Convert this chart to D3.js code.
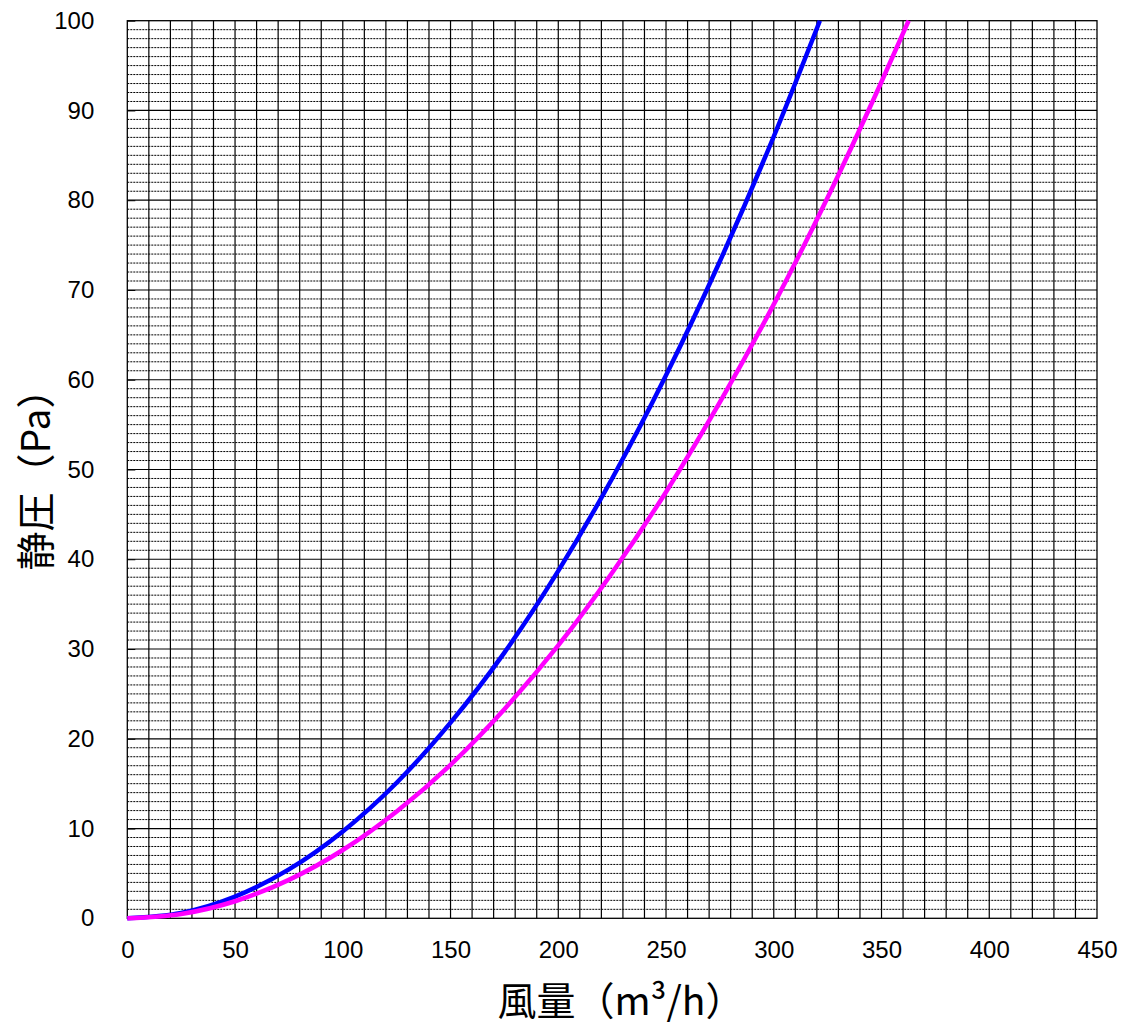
<!DOCTYPE html>
<html>
<head>
<meta charset="utf-8">
<script src="https://cdn.jsdelivr.net/npm/d3@7"></script>
<style>
  body { margin: 0; background: #fff; }
  svg { display: block; }
  .tick text { font-family: "Liberation Sans", Arial, sans-serif; font-size: 24px; fill: #000; }
  .ttl { font-family: "Noto Sans CJK JP", sans-serif; font-size: 39px; fill: #000; }
</style>
</head>
<body>
<div id="chart"></div>
<script>
// air flow (m3/h) and static pressure (Pa)
var flowBlue = [0, 25, 50, 75, 100, 125, 150, 175, 200, 225, 250, 275, 300, 321.4];
var presBlue = [0, 0.6, 2.42, 5.45, 9.68, 15.1, 21.8, 29.6, 38.7, 49.0, 60.5, 73.2, 87.1, 100];

var flowPink = [0, 25, 50, 75, 100, 125, 150, 175, 200, 225, 250, 275, 300, 325, 350, 362.6];
var presPink = [0, 0.48, 1.9, 4.28, 7.61, 11.9, 17.1, 23.3, 30.4, 38.5, 47.5, 57.5, 68.4, 80.3, 93.2, 100];

var xTicks = [0, 50, 100, 150, 200, 250, 300, 350, 400, 450];
var yTicks = [0, 10, 20, 30, 40, 50, 60, 70, 80, 90, 100];

var W = 1123, H = 1029;
var pl = 127.3, pr = 1097, pt = 20.7, pb = 918.3;

var svg = d3.select("#chart").append("svg").attr("width", W).attr("height", H);

var x = d3.scaleLinear().domain([0, 450]).range([pl, pr]);
var y = d3.scaleLinear().domain([0, 100]).range([pb, pt]);

var grid = svg.append("g");

// minor horizontal lines, every 1 Pa, dashed
grid.selectAll("line.minor")
  .data(d3.range(1, 100).filter(function(v){ return v % 10 != 0; }))
  .enter().append("line")
  .attr("class", "minor")
  .attr("x1", pl).attr("x2", pr)
  .attr("y1", function(d){ return y(d); })
  .attr("y2", function(d){ return y(d); })
  .style("stroke", "#000")
  .style("stroke-width", "1px")
  .style("stroke-dasharray", "2,1");

// vertical lines every 10 m3/h
grid.selectAll("line.vx")
  .data(d3.range(10, 450, 10))
  .enter().append("line")
  .attr("class", "vx")
  .attr("y1", pt).attr("y2", pb)
  .attr("x1", function(d){ return x(d); })
  .attr("x2", function(d){ return x(d); })
  .style("stroke", "#000")
  .style("stroke-width", "1.2px");

// major horizontal lines
grid.selectAll("line.major")
  .data(d3.range(10, 100, 10))
  .enter().append("line")
  .attr("class", "major")
  .attr("x1", pl).attr("x2", pr)
  .attr("y1", function(d){ return y(d); })
  .attr("y2", function(d){ return y(d); })
  .style("stroke", "#000")
  .style("stroke-width", "1.2px");

svg.append("rect")
  .attr("x", pl).attr("y", pt)
  .attr("width", pr - pl).attr("height", pb - pt)
  .style("fill", "none")
  .style("stroke", "#000")
  .style("stroke-width", "1.3px");

var yAxis = svg.append("g")
  .attr("transform", "translate(" + pl + ",0)")
  .call(d3.axisLeft(y).tickValues(yTicks).tickSizeInner(-8).tickSizeOuter(0).tickPadding(33));
yAxis.select(".domain").remove();
yAxis.selectAll(".tick line").style("stroke", "#000");

var xAxis = svg.append("g")
  .attr("transform", "translate(0," + pb + ")")
  .call(d3.axisBottom(x).tickValues(xTicks).tickSize(0).tickPadding(23));
xAxis.select(".domain").remove();

var line = d3.line()
  .x(function(d){ return x(d[0]); })
  .y(function(d){ return y(d[1]); })
  .curve(d3.curveMonotoneX);

var series = [
  { color: "#0000FF", pts: d3.zip(flowBlue, presBlue) },
  { color: "#FF00FF", pts: d3.zip(flowPink, presPink) }
];

svg.selectAll("path.curve")
  .data(series)
  .enter().append("path")
  .attr("class", "curve")
  .attr("d", function(d){ return line(d.pts); })
  .style("fill", "none")
  .style("stroke", function(d){ return d.color; })
  .style("stroke-width", "4.5px");

svg.append("text")
  .attr("class", "ttl")
  .attr("x", 621).attr("y", 998)
  .attr("text-anchor", "middle")
  .attr("dominant-baseline", "central")
  .text("風量（m³/h）");

svg.append("text")
  .attr("class", "ttl")
  .attr("transform", "translate(33,470) rotate(-90)")
  .attr("text-anchor", "middle")
  .attr("dominant-baseline", "central")
  .text("静圧（Pa）");
</script>
</body>
</html>
